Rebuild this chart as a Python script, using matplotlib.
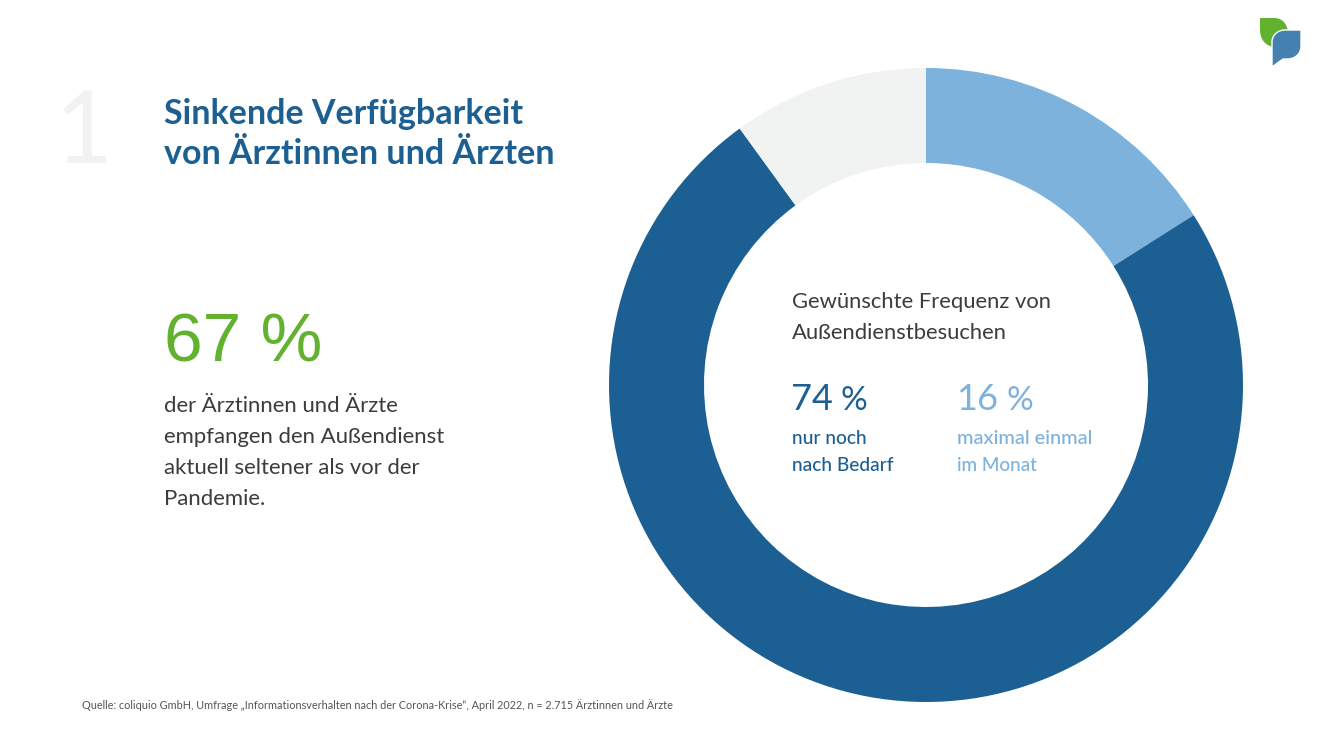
import matplotlib
matplotlib.use("Agg")
import matplotlib.pyplot as plt
from matplotlib.path import Path
from matplotlib.patches import PathPatch

W, H = 1320, 741
FONT = "Lato"
DARK = "#1c6093"
LIGHT = "#7db2dc"
GREY = "#f1f3f3"
GREEN = "#62b22f"
TEXT = "#3c3c3c"

shares = [16, 74, 10]
share_colors = [LIGHT, DARK, GREY]
title_lines = ["Sinkende Verfügbarkeit", "von Ärztinnen und Ärzten"]
body_lines = ["der Ärztinnen und Ärzte", "empfangen den Außendienst", "aktuell seltener als vor der", "Pandemie."]
center_title = ["Gewünschte Frequenz von", "Außendienstbesuchen"]
source = "Quelle: coliquio GmbH, Umfrage „Informationsverhalten nach der Corona-Krise“, April 2022, n = 2.715 Ärztinnen und Ärzte"

fig = plt.figure(figsize=(W / 100, H / 100), dpi=100, facecolor="white")

# donut
cx, cy, r = 926, 385, 317
ax = fig.add_axes([(cx - r) / W, 1 - (cy + r) / H, 2 * r / W, 2 * r / H])
ax.pie(shares, colors=share_colors, startangle=90, counterclock=False, radius=1,
       wedgeprops=dict(width=95 / 317, linewidth=0))
ax.set_xlim(-1, 1)
ax.set_ylim(-1, 1)
ax.axis("off")

# overlay in pixel coords, easier for the text and logo
ov = fig.add_axes([0, 0, 1, 1], facecolor="none")
ov.set_xlim(0, W)
ov.set_ylim(H, 0)
ov.axis("off")


def txt(x, y, s, size, color=TEXT, weight="normal", family=FONT):
    ov.text(x, y, s, fontsize=size, color=color, fontweight=weight, family=family, va="baseline")


txt(55, 163, "1", 72, GREY)
for i, line in enumerate(title_lines):
    txt(164, 124.5 + i * 40, line, 24.5, DARK, "bold")

txt(164.5, 362, "67 %", 50, GREEN, family="Liberation Sans")
for i, line in enumerate(body_lines):
    txt(164, 412 + i * 31, line, 15.9)

for i, line in enumerate(center_title):
    txt(792, 308 + i * 31, line, 15.8)

txt(791, 410, "74", 26, DARK)
txt(840, 410, "%", 24, DARK)
txt(956, 410, "16", 26, LIGHT)
txt(1006, 410, "%", 24, LIGHT)
txt(792, 444, "nur noch", 13.8, DARK, "medium")
txt(792, 471, "nach Bedarf", 13.8, DARK, "medium")
txt(957, 444, "maximal einmal", 14.3, LIGHT, "medium")
txt(957, 471, "im Monat", 13.6, LIGHT, "medium")

txt(82, 709, source, 7.84, "#555555")

# logo
M, L, C, Z = Path.MOVETO, Path.LINETO, Path.CURVE4, Path.CLOSEPOLY
leaf = Path([(1260, 18), (1274, 18), (1284, 18), (1288, 26), (1288, 34), (1288, 40), (1284, 46), (1274, 47),
             (1266, 46), (1260, 40), (1260, 30), (1260, 18)],
            [M, L, C, C, C, C, C, C, C, C, C, Z])
ov.add_patch(PathPatch(leaf, fc=GREEN, lw=0))
bubble = Path([(1272, 42), (1272, 35), (1278, 30), (1285, 30), (1301, 30), (1301, 46), (1301, 54), (1295, 59),
               (1287, 59), (1283, 59), (1272, 67), (1272, 42)],
              [M, C, C, C, L, L, C, C, C, L, L, Z])
ov.add_patch(PathPatch(bubble, fc="#4480b0", ec="white", lw=1, joinstyle="round"))

fig.savefig("out.png", dpi=100, facecolor="white")
